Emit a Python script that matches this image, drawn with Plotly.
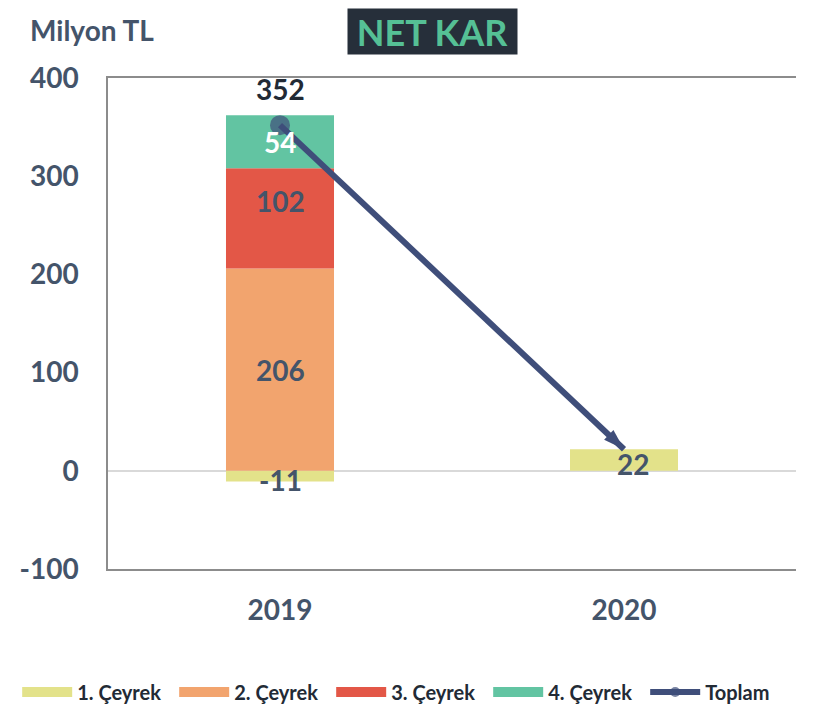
import plotly.graph_objects as go

years = ["2019", "2020"]
q1 = [-11, 22]
q2 = [206, None]
q3 = [102, None]
q4 = [54, None]
total = [352, 22]
series_names = ["1. Çeyrek", "2. Çeyrek", "3. Çeyrek", "4. Çeyrek"]
total_name = "Toplam"
y_ticks = [-100, 0, 100, 200, 300, 400]

colors = ["#E3E28A", "#F2A46E", "#E35747", "#62C4A2"]
line_color = "#3F4E7A"
text_color = "#44546A"
dark_text = "#222A35"
FONT = "Lato"

fig = go.Figure()
for name, vals, col in zip(series_names, [q1, q2, q3, q4], colors):
    fig.add_trace(go.Bar(x=years, y=vals, name=name, marker=dict(color=col, line=dict(width=0)),
                         width=0.314, showlegend=False, legendgroup=name))
    fig.add_trace(go.Scatter(x=[None], y=[None], name=name, mode="lines", legendgroup=name,
                             line=dict(color=col, width=12)))

fig.add_trace(go.Scatter(
    x=years, y=total, name=total_name, mode="lines+markers", legendgroup="tot",
    line=dict(color=line_color, width=6),
    marker=dict(color=line_color, size=[20, 0], symbol="circle", line=dict(width=0)),
))
fig.add_trace(go.Scatter(
    x=years, y=total, name=total_name, mode="markers", legendgroup="tot", showlegend=False,
    marker=dict(color=line_color, size=[0, 22], symbol="arrow", angleref="previous",
                line=dict(width=0), opacity=1),
))

i19, i20 = 0, 1  # category indices of years
bold = lambda c, s=28: dict(family=FONT, size=s, color=c, weight="bold")
ann = [
    dict(x=i19, y=q1[0], text=str(q1[0]), font=bold(text_color), yshift=2),
    dict(x=i20, y=q1[1] / 2, text=str(q1[1]), font=bold(text_color), xshift=9, yshift=-4),
    dict(x=i19, y=q2[0] / 2, text=str(q2[0]), font=bold(text_color)),
    dict(x=i19, y=q2[0] + q3[0] / 2, text=str(q3[0]), font=bold(text_color), yshift=17),
    dict(x=i19, y=q2[0] + q3[0] + q4[0] / 2, text=str(q4[0]), font=bold("white")),
    dict(x=i19, y=total[0], text=str(total[0]), font=bold(dark_text), yshift=36),
]
for a in ann:
    a.update(xref="x", yref="y", showarrow=False)

ann.append(dict(xref="paper", yref="paper", x=0.4717, y=1.1426, xanchor="center", yanchor="top",
                text="NET KAR", showarrow=False, bgcolor="#262F3A", width=165, height=41,
                borderpad=2, font=bold("#55C095", 36)))
ann.append(dict(xref="paper", yref="paper", x=-0.1163, y=1.0978, xanchor="left", yanchor="middle",
                text="Milyon TL", showarrow=False, font=bold(text_color, 28)))

fig.update_layout(
    barmode="relative",
    width=814, height=704,
    margin=dict(l=100, r=26, t=70, b=143, autoexpand=False),
    paper_bgcolor="white", plot_bgcolor="white",
    font=dict(family=FONT, color=text_color),
    annotations=ann,
    showlegend=True,
    legend=dict(orientation="h", x=-0.132, xanchor="left", y=-0.2505, yanchor="middle",
                font=bold(dark_text, 20), itemwidth=50, entrywidth=92, entrywidthmode="pixels",
                traceorder="normal", tracegroupgap=0),
)
fig.update_xaxes(type="category", range=[-0.5, 1.5], autorange=False,
                 showline=True, linecolor="#8C8C8C", linewidth=1.5, mirror=True, ticks="",
                 showgrid=False, tickfont=bold(text_color), ticklabelstandoff=16, tickangle=0)
fig.update_yaxes(range=[-100, 400], autorange=False, tickvals=y_ticks, ticktext=[str(v) for v in y_ticks],
                 showline=True, linecolor="#8C8C8C", linewidth=1.5,
                 showgrid=False, zeroline=True, zerolinecolor="#D9D9D9", zerolinewidth=2, ticks="",
                 tickfont=bold(text_color), ticklabelstandoff=22)

fig.write_html("out.html")
